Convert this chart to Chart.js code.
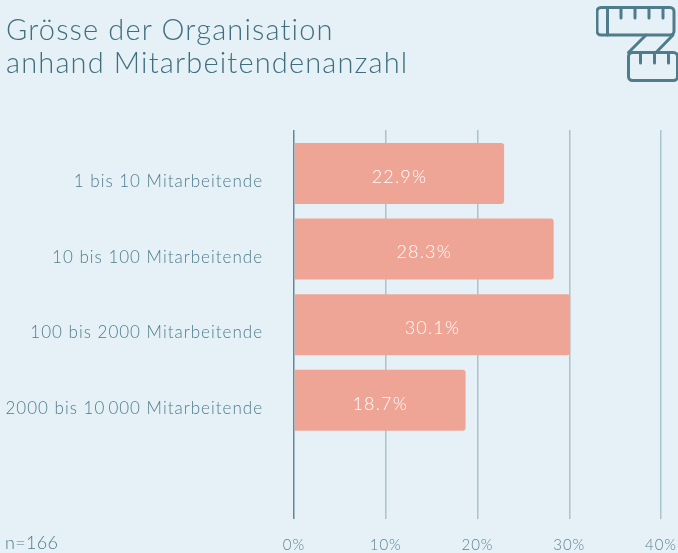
<!DOCTYPE html>
<html><head><meta charset="utf-8">
<script src="https://cdn.jsdelivr.net/npm/chart.js@4"></script>
<style>
html,body{margin:0;padding:0;background:#e5f1f7;width:678px;height:553px;overflow:hidden}
#wrap{position:relative;width:678px;height:553px}
canvas{position:absolute;left:0;top:0}
.t{position:absolute;font-family:Lato,sans-serif;font-weight:300;color:#3f6f7e;white-space:nowrap}
#title{left:6px;top:12px;font-size:29px;line-height:33px;letter-spacing:1.15px}
#n{left:5px;top:531px;font-size:18px;line-height:22px;color:#4f7c8c;letter-spacing:.3px}
svg{position:absolute;left:596px;top:6px}
</style></head><body>
<div id="wrap">
<canvas id="c" width="678" height="553"></canvas>
<div class="t" id="title">Grösse der Organisation<br>anhand Mitarbeitendenanzahl</div>
<div class="t" id="n">n=166</div>
<svg width="82" height="76" viewBox="596 6 82 76" fill="none" stroke="#4f7c8a" stroke-width="3" stroke-linecap="round" stroke-linejoin="round">
<rect x="597" y="7.5" width="77" height="27.5" rx="4"/>
<line x1="607.5" y1="7.5" x2="607.5" y2="35"/>
<line x1="621" y1="8" x2="621" y2="18"/><line x1="635" y1="8" x2="635" y2="18"/><line x1="649" y1="8" x2="649" y2="18"/><line x1="663" y1="8" x2="663" y2="18"/>
<rect x="628.5" y="52.5" width="49" height="28" rx="4"/>
<line x1="646" y1="35" x2="628.5" y2="52.5"/><line x1="673" y1="35" x2="656" y2="52.5"/>
<line x1="640.5" y1="53" x2="640.5" y2="63"/><line x1="654.5" y1="53" x2="654.5" y2="63"/><line x1="668.5" y1="53" x2="668.5" y2="63"/>
</svg>
</div>
<script>
const categories = ["1 bis 10 Mitarbeitende","10 bis 100 Mitarbeitende","100 bis 2000 Mitarbeitende","2000 bis 10\u2009000 Mitarbeitende"];
const values = [22.9, 28.3, 30.1, 18.7];
const xTicks = [0,10,20,30,40];
const FONT = 'Lato, sans-serif';

const spacing = {id:'spacing',beforeDraw(c){c.ctx.letterSpacing='1px';}};
const valueLabels = {id:'valueLabels',afterDatasetsDraw(c){
  const ctx=c.ctx;ctx.save();
  ctx.letterSpacing='1.2px';
  ctx.font='300 18px '+FONT;ctx.fillStyle='#ffffff';ctx.textAlign='center';ctx.textBaseline='middle';
  c.getDatasetMeta(0).data.forEach((b,i)=>{
    ctx.fillText(values[i].toFixed(1)+'%',(b.base+b.x)/2,b.y+3.5);
  });
  ctx.restore();
}};

new Chart(document.getElementById('c'),{
  type:'bar',
  data:{datasets:[{
    data:values.map((v,i)=>({x:v,y:i})),
    backgroundColor:'#efa595',
    borderWidth:0,
    borderSkipped:false,
    borderRadius:{topLeft:0,bottomLeft:0,topRight:3,bottomRight:3},
    categoryPercentage:1,
    barPercentage:0.806
  }]},
  options:{
    indexAxis:'y',
    responsive:false,
    animation:false,
    layout:{padding:{top:130,right:17,left:0,bottom:0}},
    plugins:{legend:{display:false},title:{display:false},tooltip:{enabled:false}},
    scales:{
      x:{
        type:'linear',min:0,max:40,
        afterBuildTicks(s){s.ticks=xTicks.map(v=>({value:v}));},
        afterFit(s){s.height=34;s.paddingRight=0;s.paddingLeft=0;},
        border:{display:false},
        grid:{drawTicks:false,lineWidth:1.5,color:c=>c.tick&&c.tick.value===0?'#5f8a9a':'#a9c4cc'},
        ticks:{padding:17,color:'#5b8494',font:{family:FONT,size:15,weight:300},maxRotation:0,callback:v=>v+'%'}
      },
      y:{
        type:'linear',reverse:true,offset:false,min:-0.575,max:4.57,
        afterBuildTicks(s){s.ticks=categories.map((_,i)=>({value:i}));},
        afterFit(s){s.width=294;s.paddingTop=0;s.paddingBottom=0;},
        border:{display:false},
        grid:{display:false,drawTicks:false},
        ticks:{padding:31,labelOffset:8,color:'#4f7c8c',font:{family:FONT,size:17,weight:300},callback:v=>categories[v]}
      }
    }
  },
  plugins:[spacing,valueLabels]
});
</script>
</body></html>
